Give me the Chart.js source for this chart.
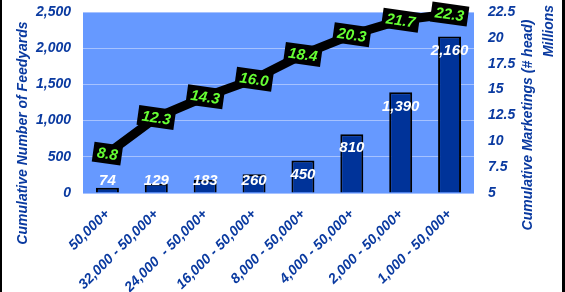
<!DOCTYPE html>
<html>
<head>
<meta charset="utf-8">
<script src="https://cdn.jsdelivr.net/npm/chart.js@4"></script>
<style>
  html, body { margin: 0; padding: 0; background: #fff; }
  #wrap { width: 565px; height: 292px; position: relative; }
</style>
</head>
<body>
<div id="wrap"><canvas id="chart" width="565" height="292"></canvas></div>
<script>
// faixas de tamanho de confinamento (cumulativas)
const categorias = ["50,000+", "32,000 - 50,000+", "24,000  - 50,000+", "16,000 - 50,000+",
  "8,000 - 50,000+", "4,000 - 50,000+", "2,000 - 50,000+", "1,000 - 50,000+"];
const feedyards = [74, 129, 183, 260, 450, 810, 1390, 2160];   // eixo esquerdo
const marketings = [8.8, 12.3, 14.3, 16.0, 18.4, 20.3, 21.7, 22.3]; // eixo direito, milhões

const AZUL = "#0a3aa0";
const FONTE = "'Liberation Sans', Arial, sans-serif";

const fmtMil = v => v.toLocaleString("en-US");

// fundo da área do gráfico + faixas pretas das bordas
const fundo = {
  id: "fundo",
  beforeDraw(chart) {
    const { ctx, chartArea: a } = chart;
    ctx.save();
    ctx.fillStyle = "#6699ff";
    ctx.fillRect(a.left, a.top, a.right - a.left, a.bottom - a.top);
    ctx.fillStyle = "#000";
    ctx.fillRect(0, 0, 2, chart.height);
    ctx.fillRect(chart.width - 3, 0, 3, chart.height);
    ctx.restore();
  },
};

// rótulos das barras (brancos) e da linha (verde em caixa preta) + títulos dos eixos
const rotulos = {
  id: "rotulos",
  afterDatasetsDraw(chart) {
    const { ctx } = chart;
    const base = chart.scales.y.getPixelForValue(0);
    ctx.save();
    ctx.font = `italic bold 15px ${FONTE}`;
    ctx.textAlign = "center";
    ctx.textBaseline = "middle";
    ctx.fillStyle = "#fff";
    chart.getDatasetMeta(0).data.forEach((bar, i) => {
      const y = Math.min(bar.y + 14, base - 12);
      ctx.fillText(fmtMil(feedyards[i]), bar.x, y);
    });
    chart.getDatasetMeta(1).data.forEach((pt, i) => {
      const txt = marketings[i].toFixed(1);
      const w = ctx.measureText(txt).width + 8;
      ctx.save();
      ctx.translate(pt.x, pt.y);
      ctx.rotate(8 * Math.PI / 180);
      ctx.fillStyle = "#000";
      ctx.fillRect(-w / 2, -10, w, 20);
      ctx.fillStyle = "#66ff33";
      ctx.fillText(txt, 0, 1);
      ctx.restore();
    });
    ctx.restore();
  },
  afterDraw(chart) {
    const { ctx } = chart;
    const vertical = (txt, x, y) => {
      ctx.save();
      ctx.translate(x, y);
      ctx.rotate(-Math.PI / 2);
      ctx.fillText(txt, 0, 0);
      ctx.restore();
    };
    ctx.save();
    ctx.fillStyle = AZUL;
    ctx.font = `italic bold 14px ${FONTE}`;
    ctx.textAlign = "center";
    ctx.textBaseline = "middle";
    vertical("Cumulative Number of Feedyards", 23, 133);
    vertical("Cumulative Marketings (# head)", 528, 125);
    vertical("Millions", 549, 31);
    ctx.restore();
  },
};

const fonteTick = { family: FONTE, size: 14, style: "italic", weight: "bold" };
const semPadY = s => { s.paddingTop = 0; s.paddingBottom = 0; };

new Chart(document.getElementById("chart").getContext("2d"), {
  data: {
    labels: categorias,
    datasets: [
      {
        type: "bar",
        data: feedyards,
        yAxisID: "y",
        backgroundColor: "#003399",
        borderColor: "#000",
        borderWidth: 2,
        barPercentage: 0.47,
        categoryPercentage: 1,
        order: 2,
      },
      {
        type: "line",
        data: marketings,
        yAxisID: "y1",
        borderColor: "#000",
        borderWidth: 9,
        pointRadius: 0,
        tension: 0,
        clip: false,
        order: 1,
      },
    ],
  },
  options: {
    responsive: false,
    animation: false,
    events: [],
    layout: { padding: { top: 12, left: 0, right: 0, bottom: 0 } },
    plugins: { legend: { display: false }, tooltip: { enabled: false } },
    scales: {
      x: {
        grid: { display: false },
        border: { display: false },
        ticks: { color: AZUL, font: fonteTick, maxRotation: 45, minRotation: 45, padding: 5, autoSkip: false },
        afterFit: s => { s.height = 99; s.paddingLeft = 0; s.paddingRight = 0; },
      },
      y: {
        position: "left",
        min: 0, max: 2500,
        grid: { color: "#a6c2ff", lineWidth: 1, drawTicks: false },
        border: { display: false },
        ticks: { stepSize: 500, color: AZUL, font: fonteTick, padding: 12, callback: v => fmtMil(v) },
        afterFit: s => { s.width = 83; semPadY(s); },
      },
      y1: {
        position: "right",
        min: 5, max: 22.5,
        grid: { display: false, drawTicks: false },
        border: { display: false },
        ticks: { stepSize: 2.5, color: AZUL, font: fonteTick, padding: 14 },
        afterFit: s => { s.width = 91; semPadY(s); },
      },
    },
  },
  plugins: [fundo, rotulos],
});
</script>
</body>
</html>
